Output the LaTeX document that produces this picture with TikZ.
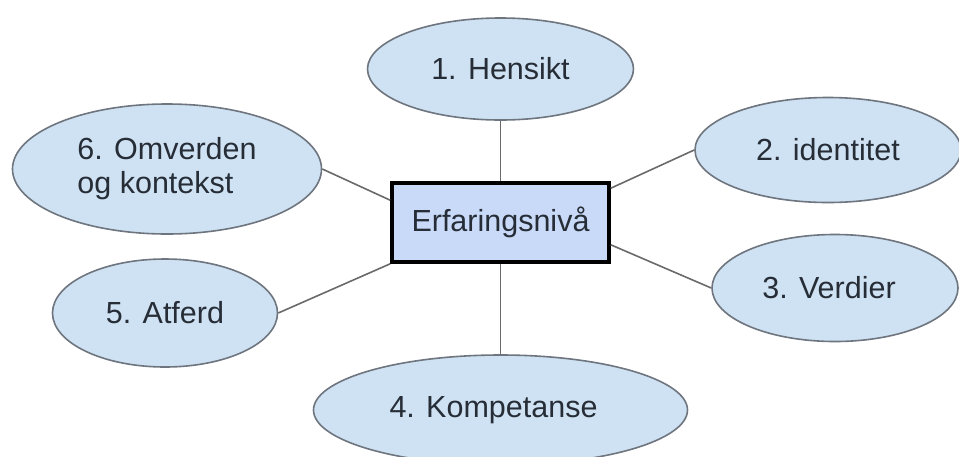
\documentclass[tikz,border=0pt]{standalone}
\usepackage{fontspec}
\setmainfont{Liberation Sans}
\usetikzlibrary{shapes.geometric}
\definecolor{ellfill}{HTML}{CFE2F3}
\definecolor{ellline}{HTML}{6E757E}
\definecolor{boxfill}{HTML}{C9DAF8}
\definecolor{txt}{HTML}{262D36}
\definecolor{wire}{HTML}{6A6A6A}
\tikzset{
  topic/.style={ellipse, draw=ellline, line width=1.6pt, fill=ellfill, inner sep=0pt,
    text=txt, font=\fontsize{30.5}{34}\selectfont, align=center},
  hub/.style={rectangle, draw=black, line width=3.6pt, fill=boxfill, inner sep=0pt,
    minimum width=217pt, minimum height=79pt, text=txt, font=\fontsize{30.5}{34}\selectfont},
  wire/.style={draw=wire, line width=1.6pt}
}
\begin{document}
\begin{tikzpicture}[x=1pt, y=-1pt]
  \useasboundingbox (0,0) rectangle (959,456);
  \clip (0,0) rectangle (959,456);
  \fill[white] (0,0) rectangle (959,456);

  % centre box
  \node[hub] (hub) at (500.5,222.5) {Erfaringsnivå};

  % surrounding topics
  \node[topic, minimum width=266pt, minimum height=102pt] (e1) at (500.5,69) {1. Hensikt};
  \node[topic, minimum width=266pt, minimum height=105pt] (e2) at (828,150) {2. identitet};
  \node[topic, minimum width=246pt, minimum height=107pt] (e3) at (835,288) {\hspace*{-12pt}3. Verdier};
  \node[topic, minimum width=374pt, minimum height=110pt] (e4) at (500.5,410) {\hspace*{-14pt}4. Kompetanse};
  \node[topic, minimum width=225pt, minimum height=108pt] (e5) at (165,313) {5. Atferd};
  \node[topic, align=left, minimum width=309pt, minimum height=130pt] (e6) at (167,169) {6. Omverden\\og kontekst};

  % connectors
  \draw[wire] (e1.south) -- (hub.north);
  \draw[wire] ([yshift=-7pt]hub.north east) -- (e2.west);
  \draw[wire] ([yshift=19pt]hub.south east) -- (e3.west);
  \draw[wire] (hub.south) -- (e4.north);
  \draw[wire] (hub.south west) -- (e5.east);
  \draw[wire] ([yshift=-19pt]hub.north west) -- (e6.east);
\end{tikzpicture}
\end{document}
